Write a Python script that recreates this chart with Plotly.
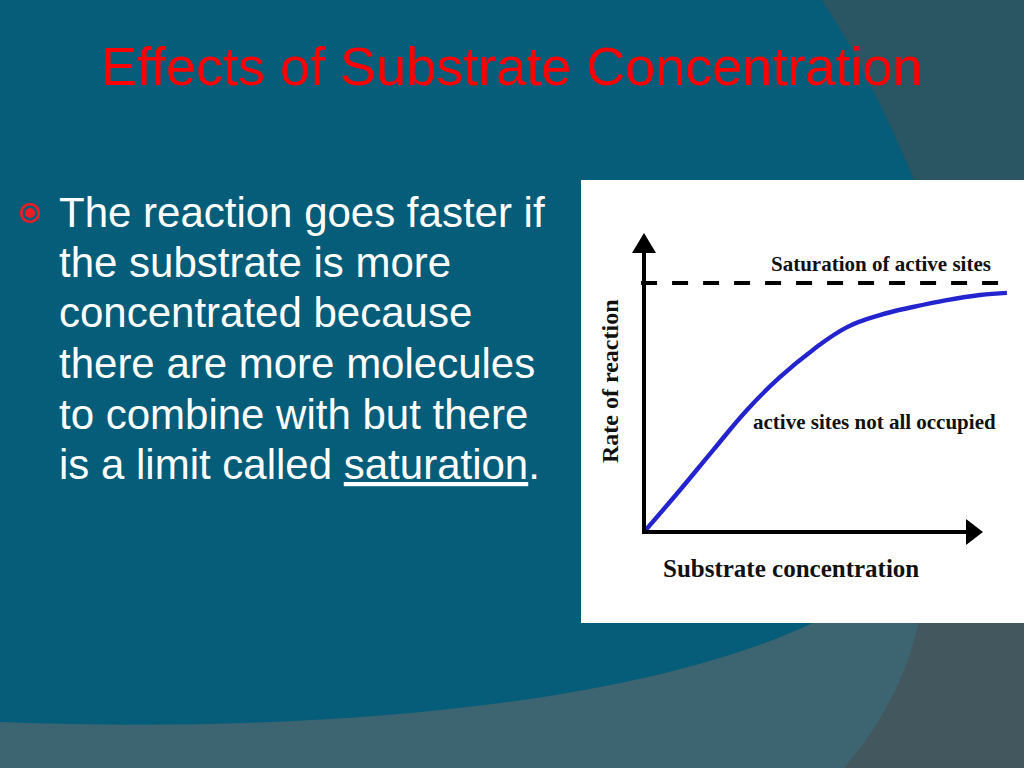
import plotly.graph_objects as go

# ---------------- data ----------------
substrate = [0, 0.99, 1.90, 2.83, 3.74, 4.64, 5.58, 6.48, 7.39, 8.32, 9.23, 9.97]
rate = [0, 1.40, 2.73, 4.07, 5.17, 6.07, 6.83, 7.23, 7.50, 7.73, 7.90, 7.97]
saturation_level = 8.3
saturation_x = [-0.08, 10.03]

title_text = "Effects of Substrate Concentration"
bullet_lines = [
    "The reaction goes faster if",
    "the substrate is more",
    "concentrated because",
    "there are more molecules",
    "to combine with but there",
    "is a limit called <u>saturation</u>.",
]
label_saturation = "Saturation of active sites"
label_not_occupied = "active sites not all occupied"
label_x = "Substrate concentration"
label_y = "Rate of reaction"

W, H = 1024, 768
BG_MAIN = "#055d79"
BG_TOPRIGHT = "#2a5562"
BG_BAND = "#3d6571"
BG_BOTRIGHT = "#43575e"

# chart pixel frame (origin & scale)
OX, OY = 644, 532          # pixel of data (0,0)
PX_X = 36.4                # pixels per x unit
PX_Y = 30.0                # pixels per y unit
X_RANGE = [-1.0, 10.4]
Y_RANGE = [-1.0, 10.5]


def px(x, y):
    return f"{x / W:.5f},{1 - y / H:.5f}"


def dx(p):   # pixel -> data x
    return (p - OX) / PX_X


def dy(p):   # pixel -> data y
    return (OY - p) / PX_Y


fig = go.Figure()

# curve
fig.add_trace(go.Scatter(
    x=substrate, y=rate, mode="lines",
    line=dict(color="#2424cf", width=4.4, shape="spline", smoothing=1.2),
    hoverinfo="skip", showlegend=False))

# saturation dashed line
fig.add_trace(go.Scatter(
    x=saturation_x, y=[saturation_level, saturation_level], mode="lines",
    line=dict(color="black", width=4, dash="16px,15px"),
    hoverinfo="skip", showlegend=False))

shapes = []
# background regions
shapes.append(dict(type="path", xref="paper", yref="paper", layer="below",
                   path=f"M{px(820,-2)} C{px(850,40)} {px(885,110)} {px(915,182)} L{px(1026,182)} L{px(1026,-2)} Z",
                   fillcolor=BG_TOPRIGHT, line=dict(width=0)))
shapes.append(dict(type="path", xref="paper", yref="paper", layer="below",
                   path=f"M{px(-2,722)} C{px(350,735)} {px(650,700)} {px(815,622)} L{px(830,612)} L{px(1026,612)} L{px(1026,770)} L{px(-2,770)} Z",
                   fillcolor=BG_BAND, line=dict(width=0)))
shapes.append(dict(type="path", xref="paper", yref="paper", layer="below",
                   path=f"M{px(921,612)} Q{px(903,702)} {px(842,770)} L{px(1026,770)} L{px(1026,612)} Z",
                   fillcolor=BG_BOTRIGHT, line=dict(width=0)))
# white panel
shapes.append(dict(type="rect", xref="paper", yref="paper", layer="below",
                   x0=581 / W, x1=1.0, y0=1 - 623 / H, y1=1 - 180 / H,
                   fillcolor="white", line=dict(width=0)))

# axes with arrowheads (data coords)
shapes.append(dict(type="line", xref="x", yref="y", x0=0, x1=0, y0=dy(OY + 2), y1=dy(251),
                   line=dict(color="black", width=4)))
shapes.append(dict(type="path", xref="x", yref="y",
                   path=f"M{dx(OX-12)},{dy(253)} L{dx(OX+12)},{dy(253)} L{dx(OX)},{dy(233)} Z",
                   fillcolor="black", line=dict(width=0)))
shapes.append(dict(type="line", xref="x", yref="y", x0=dx(OX - 2), x1=dx(968), y0=0, y1=0,
                   line=dict(color="black", width=4)))
shapes.append(dict(type="path", xref="x", yref="y",
                   path=f"M{dx(966)},{dy(OY-13)} L{dx(966)},{dy(OY+13)} L{dx(983)},{dy(OY)} Z",
                   fillcolor="black", line=dict(width=0)))

# bullet
shapes.append(dict(type="circle", xref="paper", yref="paper",
                   x0=(30 - 8.8) / W, x1=(30 + 8.8) / W, y0=1 - (213 + 8.8) / H, y1=1 - (213 - 8.8) / H,
                   line=dict(color="#e3202a", width=2.8), fillcolor="rgba(0,0,0,0)"))
shapes.append(dict(type="circle", xref="paper", yref="paper",
                   x0=(30 - 5) / W, x1=(30 + 5) / W, y0=1 - (213 + 5) / H, y1=1 - (213 - 5) / H,
                   line=dict(width=0), fillcolor="#f01c24"))

annotations = []
annotations.append(dict(text=title_text, xref="paper", yref="paper", x=511 / W, y=1 - 66 / H,
                        xanchor="center", yanchor="middle", showarrow=False,
                        font=dict(family="Liberation Sans, Arial, sans-serif", size=54, color="#ff0000")))
for i, line in enumerate(bullet_lines):
    base = 227 + 50.5 * i
    annotations.append(dict(text=line, xref="paper", yref="paper", x=57 / W, y=1 - (base - 15) / H,
                            xanchor="left", yanchor="middle", showarrow=False,
                            font=dict(family="Liberation Sans, Arial, sans-serif", size=42, color="white")))

serif = "Liberation Serif, Times New Roman, serif"
annotations.append(dict(text=f"<b>{label_saturation}</b>", xref="paper", yref="paper",
                        x=881 / W, y=1 - 264 / H, xanchor="center", yanchor="middle", showarrow=False,
                        font=dict(family=serif, size=21, color="#111")))
annotations.append(dict(text=f"<b>{label_not_occupied}</b>", xref="paper", yref="paper",
                        x=874 / W, y=1 - 422 / H, xanchor="center", yanchor="middle", showarrow=False,
                        font=dict(family=serif, size=21, color="#111")))
annotations.append(dict(text=f"<b>{label_x}</b>", xref="paper", yref="paper",
                        x=791 / W, y=1 - 568 / H, xanchor="center", yanchor="middle", showarrow=False,
                        font=dict(family=serif, size=25, color="#111")))
annotations.append(dict(text=f"<b>{label_y}</b>", xref="paper", yref="paper",
                        x=610 / W, y=1 - 381 / H, xanchor="center", yanchor="middle", showarrow=False,
                        textangle=-90, font=dict(family=serif, size=24, color="#111")))

fig.update_layout(
    width=W, height=H, margin=dict(l=0, r=0, t=0, b=0),
    paper_bgcolor=BG_MAIN, plot_bgcolor="rgba(0,0,0,0)",
    shapes=shapes, annotations=annotations, showlegend=False,
    xaxis=dict(domain=[(OX + X_RANGE[0] * PX_X) / W, (OX + X_RANGE[1] * PX_X) / W],
               range=X_RANGE, visible=False, fixedrange=True),
    yaxis=dict(domain=[1 - (OY - Y_RANGE[0] * PX_Y) / H, 1 - (OY - Y_RANGE[1] * PX_Y) / H],
               range=Y_RANGE, visible=False, fixedrange=True),
)

fig.write_html("out.html", config={"displayModeBar": False},
               post_script="document.body.style.margin='0';document.body.style.overflow='hidden';")
